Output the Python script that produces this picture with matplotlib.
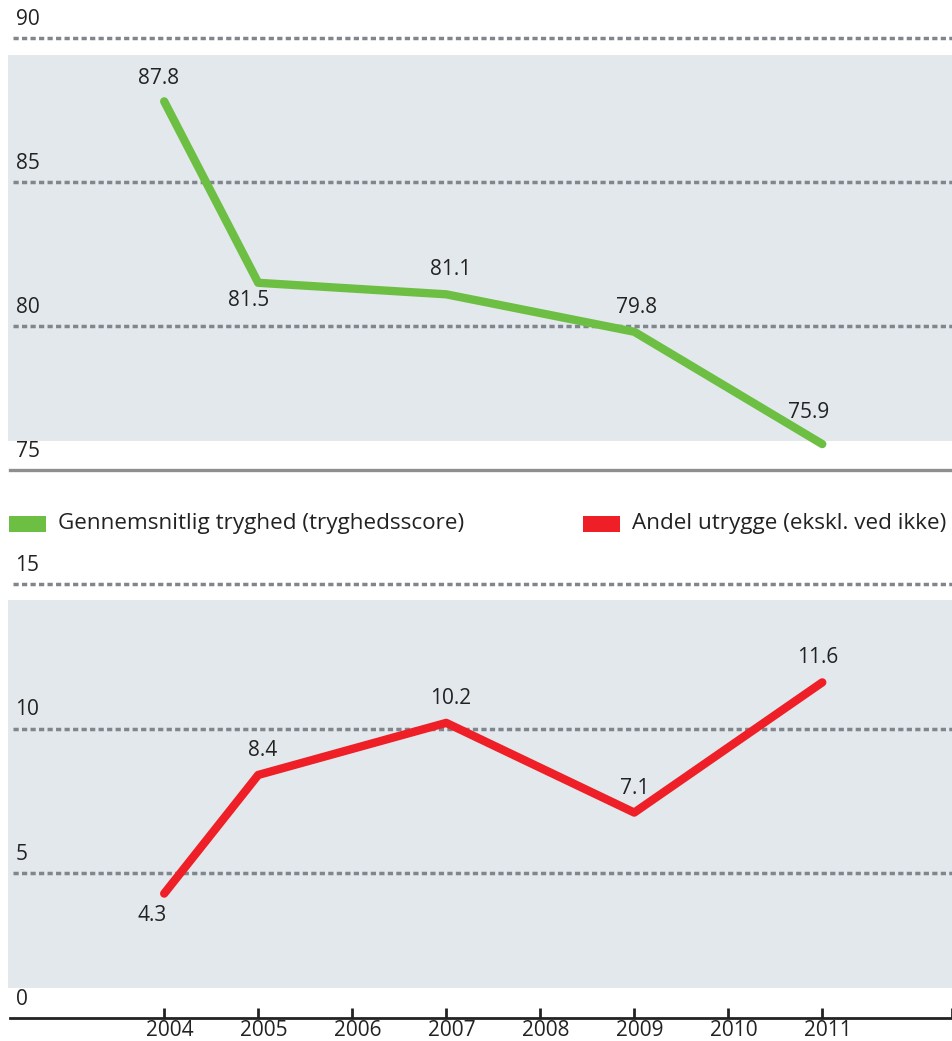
import matplotlib
matplotlib.use("Agg")
import matplotlib.pyplot as plt
from matplotlib.patches import Rectangle

# ---- data ----
years = [2004, 2005, 2007, 2009, 2011]
tryghed = [87.8, 81.5, 81.1, 79.8, 75.9]
utrygge = [4.3, 8.4, 10.2, 7.1, 11.6]
tryghed_labels = ["87.8", "81.5", "81.1", "79.8", "75.9"]
utrygge_labels = ["4.3", "8.4", "10.2", "7.1", "11.6"]
year_ticks = [2004, 2005, 2006, 2007, 2008, 2009, 2010, 2011]
top_yticks = [75, 80, 85, 90]
bot_yticks = [0, 5, 10, 15]
legend_names = ["Gennemsnitlig tryghed (tryghedsscore)", "Andel utrygge (ekskl. ved ikke)"]

# ---- style ----
GREEN = "#6dbf44"
RED = "#ee1f26"
BAND = "#e3e8ec"
GRID = "#80868d"
TXT = "#222222"
FONT = "Open Sans"
plt.rcParams["font.family"] = [FONT, "DejaVu Sans"]

W, H = 952, 1041
fig = plt.figure(figsize=(W / 100, H / 100), dpi=100)

def fx(px):
    return px / W

def fy(py):
    return 1 - py / H

XL, XR = 2002.36, 2012.38
AX_L, AX_R = 10, 952

def make_axes(top_px, bottom_px, ylim):
    ax = fig.add_axes([fx(AX_L), fy(bottom_px), fx(AX_R - AX_L), (bottom_px - top_px) / H])
    ax.set_xlim(XL, XR)
    ax.set_ylim(*ylim)
    ax.axis("off")
    return ax

ax1 = make_axes(38, 470, (75, 90))
ax2 = make_axes(584, 1018, (0, 15))

def band(ax, top_px, bottom_px, panel_top, panel_bot):
    h = panel_bot - panel_top
    y0 = (panel_bot - bottom_px) / h
    y1 = (panel_bot - top_px) / h
    ax.add_patch(Rectangle((-0.002, y0), 1.01, y1 - y0, transform=ax.transAxes,
                           facecolor=BAND, edgecolor="none", zorder=0, clip_on=False))

band(ax1, 55, 441, 38, 470)
band(ax2, 600, 988, 584, 1018)

def grid_and_labels(ax, ticks, base_style):
    for t in ticks:
        if t == ticks[0]:
            ax.axhline(t, xmin=0, xmax=1, **base_style, zorder=1, clip_on=False)
        else:
            ax.axhline(t, xmin=0.003, xmax=1, color=GRID, lw=2.5,
                       dashes=(1.5, 0.95), zorder=1, clip_on=False)
        ax.annotate(str(t), (0, t), xycoords=("axes fraction", "data"),
                    xytext=(4, 6), textcoords="offset points",
                    ha="left", va="bottom", fontsize=15, color=TXT)

grid_and_labels(ax1, top_yticks, dict(color="#8f8f8f", lw=2.4))
grid_and_labels(ax2, bot_yticks, dict(color="#222222", lw=2.0))

# x ticks on bottom axis
for yr in year_ticks + [XR - 0.005]:
    ax2.plot([yr, yr], [0, 0.33], color="#222222", lw=2.0, zorder=2,
             solid_capstyle="butt", clip_on=False)
for yr in year_ticks:
    ax2.annotate(str(yr), (yr, 0), xytext=(4, -1.5), textcoords="offset points",
                 ha="center", va="top", fontsize=15, color=TXT, annotation_clip=False)

# lines
ax1.plot(years, tryghed, color=GREEN, lw=6, solid_capstyle="round",
         solid_joinstyle="round", zorder=3)
ax2.plot(years, utrygge, color=RED, lw=6, solid_capstyle="round",
         solid_joinstyle="round", zorder=3)

top_offsets = [(-4, 9), (-7, -5), (3, 10), (2, 10), (-10, 15)]
top_va = ["bottom", "top", "bottom", "bottom", "bottom"]
for x, y, s, off, va in zip(years, tryghed, tryghed_labels, top_offsets, top_va):
    ax1.annotate(s, (x, y), xytext=off, textcoords="offset points",
                 ha="center", va=va, fontsize=15, color=TXT, zorder=4)

bot_offsets = [(-9, -8), (3, 10), (3, 10), (0, 10), (-3, 10)]
bot_va = ["top", "bottom", "bottom", "bottom", "bottom"]
for x, y, s, off, va in zip(years, utrygge, utrygge_labels, bot_offsets, bot_va):
    ax2.annotate(s, (x, y), xytext=off, textcoords="offset points",
                 ha="center", va=va, fontsize=15, color=TXT, zorder=4)

# legend
leg_y = 523
patches = [(9, GREEN), (583, RED)]
for (px, col), name in zip(patches, legend_names):
    fig.patches.append(Rectangle((fx(px), fy(532)), fx(37), 16 / H,
                                 transform=fig.transFigure, facecolor=col,
                                 edgecolor="none"))
    fig.text(fx(px + 49), fy(leg_y), name, ha="left", va="center",
             fontsize=16.2, color=TXT)

fig.savefig("out.png", dpi=100)
